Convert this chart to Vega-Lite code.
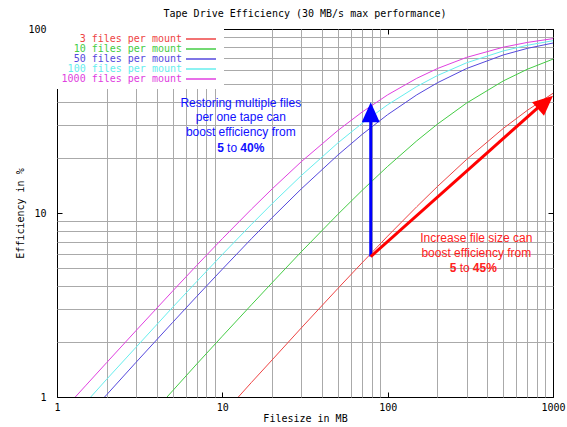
{
  "$schema": "https://vega.github.io/schema/vega-lite/v6.json",
  "width": 496,
  "height": 368,
  "autosize": {"type": "none"},
  "padding": {"left": 57, "top": 29, "right": 14, "bottom": 30},
  "background": "white",
  "title": {
    "text": "Tape Drive Efficiency (30 MB/s max performance)",
    "font": "DejaVu Sans Mono", "fontSize": 10, "fontWeight": "normal",
    "color": "black", "anchor": "middle", "baseline": "middle", "offset": 0
  },
  "config": {
    "view": {"stroke": "black", "strokeWidth": 1},
    "axis": {
      "labelFont": "DejaVu Sans Mono", "labelFontSize": 10, "labelColor": "black",
      "titleFont": "DejaVu Sans Mono", "titleFontSize": 10, "titleFontWeight": "normal", "titleColor": "black",
      "domain": false, "labelFlush": false, "labelOverlap": false,
      "tickColor": "black", "tickSize": -5, "tickWidth": 1,
      "gridColor": "#aaaaaa", "gridWidth": 1
    }
  },
  "datasets": {
    "curves": [
      {"series": "3 files per mount", "size": 12.5, "eff": 1.0},
      {"series": "3 files per mount", "size": 15, "eff": 1.2},
      {"series": "3 files per mount", "size": 20, "eff": 1.59},
      {"series": "3 files per mount", "size": 30, "eff": 2.37},
      {"series": "3 files per mount", "size": 50, "eff": 3.89},
      {"series": "3 files per mount", "size": 70, "eff": 5.36},
      {"series": "3 files per mount", "size": 100, "eff": 7.49},
      {"series": "3 files per mount", "size": 150, "eff": 10.82},
      {"series": "3 files per mount", "size": 200, "eff": 13.93},
      {"series": "3 files per mount", "size": 300, "eff": 19.53},
      {"series": "3 files per mount", "size": 500, "eff": 28.8},
      {"series": "3 files per mount", "size": 700, "eff": 36.16},
      {"series": "3 files per mount", "size": 1000, "eff": 44.72},
      {"series": "10 files per mount", "size": 4.63, "eff": 1.0},
      {"series": "10 files per mount", "size": 5, "eff": 1.08},
      {"series": "10 files per mount", "size": 7, "eff": 1.51},
      {"series": "10 files per mount", "size": 10, "eff": 2.14},
      {"series": "10 files per mount", "size": 15, "eff": 3.17},
      {"series": "10 files per mount", "size": 20, "eff": 4.18},
      {"series": "10 files per mount", "size": 30, "eff": 6.15},
      {"series": "10 files per mount", "size": 50, "eff": 9.84},
      {"series": "10 files per mount", "size": 70, "eff": 13.26},
      {"series": "10 files per mount", "size": 100, "eff": 17.92},
      {"series": "10 files per mount", "size": 150, "eff": 24.67},
      {"series": "10 files per mount", "size": 200, "eff": 30.4},
      {"series": "10 files per mount", "size": 300, "eff": 39.58},
      {"series": "10 files per mount", "size": 500, "eff": 52.19},
      {"series": "10 files per mount", "size": 700, "eff": 60.45},
      {"series": "10 files per mount", "size": 1000, "eff": 68.59},
      {"series": "50 files per mount", "size": 1.94, "eff": 1.0},
      {"series": "50 files per mount", "size": 2, "eff": 1.03},
      {"series": "50 files per mount", "size": 3, "eff": 1.54},
      {"series": "50 files per mount", "size": 5, "eff": 2.54},
      {"series": "50 files per mount", "size": 7, "eff": 3.52},
      {"series": "50 files per mount", "size": 10, "eff": 4.95},
      {"series": "50 files per mount", "size": 15, "eff": 7.25},
      {"series": "50 files per mount", "size": 20, "eff": 9.43},
      {"series": "50 files per mount", "size": 30, "eff": 13.51},
      {"series": "50 files per mount", "size": 50, "eff": 20.66},
      {"series": "50 files per mount", "size": 70, "eff": 26.72},
      {"series": "50 files per mount", "size": 100, "eff": 34.25},
      {"series": "50 files per mount", "size": 150, "eff": 43.86},
      {"series": "50 files per mount", "size": 200, "eff": 51.02},
      {"series": "50 files per mount", "size": 300, "eff": 60.98},
      {"series": "50 files per mount", "size": 500, "eff": 72.25},
      {"series": "50 files per mount", "size": 700, "eff": 78.48},
      {"series": "50 files per mount", "size": 1000, "eff": 83.89},
      {"series": "100 files per mount", "size": 1.6, "eff": 1.0},
      {"series": "100 files per mount", "size": 2, "eff": 1.25},
      {"series": "100 files per mount", "size": 3, "eff": 1.86},
      {"series": "100 files per mount", "size": 5, "eff": 3.07},
      {"series": "100 files per mount", "size": 7, "eff": 4.24},
      {"series": "100 files per mount", "size": 10, "eff": 5.95},
      {"series": "100 files per mount", "size": 15, "eff": 8.67},
      {"series": "100 files per mount", "size": 20, "eff": 11.24},
      {"series": "100 files per mount", "size": 30, "eff": 15.96},
      {"series": "100 files per mount", "size": 50, "eff": 24.04},
      {"series": "100 files per mount", "size": 70, "eff": 30.7},
      {"series": "100 files per mount", "size": 100, "eff": 38.76},
      {"series": "100 files per mount", "size": 150, "eff": 48.7},
      {"series": "100 files per mount", "size": 200, "eff": 55.87},
      {"series": "100 files per mount", "size": 300, "eff": 65.5},
      {"series": "100 files per mount", "size": 500, "eff": 75.99},
      {"series": "100 files per mount", "size": 700, "eff": 81.59},
      {"series": "100 files per mount", "size": 1000, "eff": 86.36},
      {"series": "1000 files per mount", "size": 1.29, "eff": 1.0},
      {"series": "1000 files per mount", "size": 1.5, "eff": 1.16},
      {"series": "1000 files per mount", "size": 2, "eff": 1.54},
      {"series": "1000 files per mount", "size": 3, "eff": 2.29},
      {"series": "1000 files per mount", "size": 5, "eff": 3.76},
      {"series": "1000 files per mount", "size": 7, "eff": 5.19},
      {"series": "1000 files per mount", "size": 10, "eff": 7.25},
      {"series": "1000 files per mount", "size": 15, "eff": 10.49},
      {"series": "1000 files per mount", "size": 20, "eff": 13.51},
      {"series": "1000 files per mount", "size": 30, "eff": 18.99},
      {"series": "1000 files per mount", "size": 50, "eff": 28.09},
      {"series": "1000 files per mount", "size": 70, "eff": 35.35},
      {"series": "1000 files per mount", "size": 100, "eff": 43.86},
      {"series": "1000 files per mount", "size": 150, "eff": 53.96},
      {"series": "1000 files per mount", "size": 200, "eff": 60.98},
      {"series": "1000 files per mount", "size": 300, "eff": 70.09},
      {"series": "1000 files per mount", "size": 500, "eff": 79.62},
      {"series": "1000 files per mount", "size": 700, "eff": 84.54},
      {"series": "1000 files per mount", "size": 1000, "eff": 88.65}
    ],
    "shafts": [
      {"arrow": "restore", "size": 79, "eff": 5.8},
      {"arrow": "restore", "size": 79, "eff": 35},
      {"arrow": "filesize", "size": 79, "eff": 5.8},
      {"arrow": "filesize", "size": 850, "eff": 38.8}
    ],
    "heads": [
      {"arrow": "restore", "size": 79, "eff": 40},
      {"arrow": "filesize", "size": 1000, "eff": 43.4}
    ],
    "notes": [
      {"note": "restore", "text": "Restoring multiple files", "size": 12.93, "eff": 39.46},
      {"note": "restore", "text": "per one tape can", "size": 12.93, "eff": 33.12},
      {"note": "restore", "text": "boost efficiency from", "size": 12.93, "eff": 27.45},
      {"note": "restore", "text": "to", "size": 11.46, "eff": 22.64},
      {"note": "filesize", "text": "Increase file size can", "size": 343.7, "eff": 7.34},
      {"note": "filesize", "text": "boost efficiency from", "size": 343.7, "eff": 6.08},
      {"note": "filesize", "text": "to", "size": 292.3, "eff": 5.01}
    ],
    "notes_bold": [
      {"note": "restore", "text": "5", "size": 9.75, "eff": 22.64},
      {"note": "restore", "text": "40%", "size": 15.18, "eff": 22.64},
      {"note": "filesize", "text": "5", "size": 248.5, "eff": 5.01},
      {"note": "filesize", "text": "45%", "size": 387.3, "eff": 5.01}
    ]
  },
  "layer": [
    {
      "data": {"name": "curves"},
      "mark": {"type": "line", "strokeWidth": 1, "clip": true},
      "encoding": {
        "x": {
          "field": "size", "type": "quantitative",
          "scale": {"type": "log", "domain": [1, 1000], "nice": false},
          "axis": {
            "orient": "bottom",
            "values": [1, 2, 3, 4, 5, 6, 7, 8, 9, 10, 20, 30, 40, 50, 60, 70, 80, 90, 100, 200, 300, 400, 500, 600, 700, 800, 900, 1000],
            "labelExpr": "indexof([1, 10, 100, 1000], datum.value) >= 0 ? format(datum.value, 'd') : ''",
            "grid": true,
            "gridOpacity": {"condition": {"test": "indexof([1, 10, 100, 1000], datum.value) >= 0", "value": 0}, "value": 1},
            "tickOpacity": {"condition": {"test": "indexof([1, 10, 100, 1000], datum.value) >= 0", "value": 1}, "value": 0},
            "labelPadding": 10,
            "title": "Filesize in MB",
            "titleY": 21, "titleBaseline": "middle"
          }
        },
        "y": {
          "field": "eff", "type": "quantitative",
          "scale": {"type": "log", "domain": [1, 100], "nice": false},
          "axis": {
            "orient": "left",
            "values": [1, 2, 3, 4, 5, 6, 7, 8, 9, 10, 20, 30, 40, 50, 60, 70, 80, 90, 100],
            "labelExpr": "indexof([1, 10, 100], datum.value) >= 0 ? format(datum.value, 'd') : ''",
            "grid": true,
            "gridOpacity": {"condition": {"test": "indexof([1, 10, 100], datum.value) >= 0", "value": 0}, "value": 1},
            "tickOpacity": {"condition": {"test": "indexof([1, 10, 100], datum.value) >= 0", "value": 1}, "value": 0},
            "labelPadding": 16,
            "title": "Efficiency in %",
            "titleX": -37, "titleY": 184, "titleAngle": -90, "titleAlign": "center", "titleBaseline": "middle"
          }
        },
        "color": {
          "field": "series", "type": "nominal",
          "scale": {
            "domain": ["3 files per mount", "10 files per mount", "50 files per mount", "100 files per mount", "1000 files per mount"],
            "range": ["#ee4444", "#44cc44", "#5548dd", "#66eeee", "#e040e0"]
          },
          "legend": {
            "orient": "top-left", "offset": 0, "title": null, "zindex": 2,
            "labelFont": "DejaVu Sans Mono", "labelFontSize": 10,
            "labelAlign": "right", "symbolOffset": 134, "labelOffset": -24,
            "labelExpr": "pad(datum.label, 20, ' ', 'left')",
            "symbolType": "M-6,0L6,0", "symbolSize": 25, "symbolStrokeWidth": 1.5,
            "fillColor": "#ffffff", "padding": 5, "rowPadding": 0,
            "encode": {
              "labels": {"update": {"fill": {"scale": "color", "field": "value"}}},
              "legend": {"update": {"fill": {"value": "#ffffff"}}}
            }
          }
        }
      }
    },
    {
      "data": {"name": "shafts"},
      "transform": [{"filter": "datum.arrow == 'restore'"}],
      "mark": {"type": "line", "color": "#0000ff", "strokeWidth": 3},
      "encoding": {
        "x": {
          "field": "size", "type": "quantitative",
          "axis": {"orient": "top", "values": [1, 10, 100, 1000], "labels": false, "grid": false, "title": null}
        },
        "y": {
          "field": "eff", "type": "quantitative",
          "axis": {"orient": "right", "values": [1, 10, 100], "labels": false, "grid": false, "title": null}
        }
      }
    },
    {
      "data": {"name": "shafts"},
      "transform": [{"filter": "datum.arrow == 'filesize'"}],
      "mark": {"type": "line", "color": "#ff0000", "strokeWidth": 3},
      "encoding": {
        "x": {"field": "size", "type": "quantitative", "axis": null},
        "y": {"field": "eff", "type": "quantitative", "axis": null}
      }
    },
    {
      "data": {"name": "heads"},
      "transform": [{"filter": "datum.arrow == 'restore'"}],
      "mark": {"type": "point", "shape": "M0,0L0.9,2L-0.9,2Z", "size": 400, "filled": true, "opacity": 1, "color": "#0000ff", "angle": 0},
      "encoding": {
        "x": {"field": "size", "type": "quantitative", "axis": null},
        "y": {"field": "eff", "type": "quantitative", "axis": null}
      }
    },
    {
      "data": {"name": "heads"},
      "transform": [{"filter": "datum.arrow == 'filesize'"}],
      "mark": {"type": "point", "shape": "M0,0L0.9,2L-0.9,2Z", "size": 400, "filled": true, "opacity": 1, "color": "#ff0000", "angle": 48.5},
      "encoding": {
        "x": {"field": "size", "type": "quantitative", "axis": null},
        "y": {"field": "eff", "type": "quantitative", "axis": null}
      }
    },
    {
      "data": {"name": "notes"},
      "transform": [{"filter": "datum.note == 'restore'"}],
      "mark": {"type": "text", "font": "Liberation Sans", "fontSize": 12, "align": "center", "baseline": "middle", "color": "#1010ff"},
      "encoding": {
        "x": {"field": "size", "type": "quantitative", "axis": null},
        "y": {"field": "eff", "type": "quantitative", "axis": null},
        "text": {"field": "text"}
      }
    },
    {
      "data": {"name": "notes"},
      "transform": [{"filter": "datum.note == 'filesize'"}],
      "mark": {"type": "text", "font": "Liberation Sans", "fontSize": 12, "align": "center", "baseline": "middle", "color": "#ff2020"},
      "encoding": {
        "x": {"field": "size", "type": "quantitative", "axis": null},
        "y": {"field": "eff", "type": "quantitative", "axis": null},
        "text": {"field": "text"}
      }
    },
    {
      "data": {"name": "notes_bold"},
      "transform": [{"filter": "datum.note == 'restore'"}],
      "mark": {"type": "text", "font": "Liberation Sans", "fontSize": 12, "fontWeight": "bold", "align": "center", "baseline": "middle", "color": "#1010ff"},
      "encoding": {
        "x": {"field": "size", "type": "quantitative", "axis": null},
        "y": {"field": "eff", "type": "quantitative", "axis": null},
        "text": {"field": "text"}
      }
    },
    {
      "data": {"name": "notes_bold"},
      "transform": [{"filter": "datum.note == 'filesize'"}],
      "mark": {"type": "text", "font": "Liberation Sans", "fontSize": 12, "fontWeight": "bold", "align": "center", "baseline": "middle", "color": "#ff2020"},
      "encoding": {
        "x": {"field": "size", "type": "quantitative", "axis": null},
        "y": {"field": "eff", "type": "quantitative", "axis": null},
        "text": {"field": "text"}
      }
    }
  ],
  "resolve": {"axis": {"x": "independent", "y": "independent"}}
}
